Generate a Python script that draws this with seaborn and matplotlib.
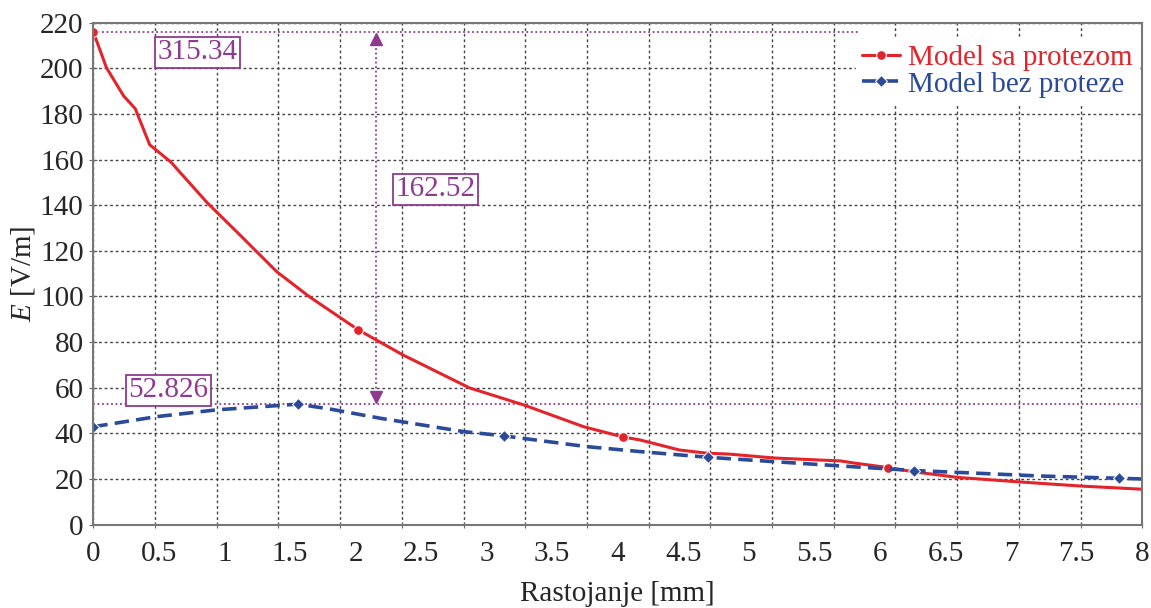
import numpy as np
import matplotlib
matplotlib.use("Agg")
import matplotlib.pyplot as plt
import seaborn as sns

# ---- data ----
red_x = [0, 0.10, 0.23, 0.32, 0.43, 0.59, 0.87, 1.10, 1.40, 1.65, 2.02, 2.36, 2.87, 3.28,
         3.74, 4.04, 4.17, 4.47, 4.68, 4.85, 5.19, 5.70, 5.80, 6.06, 6.25, 6.59, 7.04, 7.53, 8.0]
red_y = [216, 200.3, 188, 182.3, 166.5, 159, 141, 128, 110.8, 99.8, 85.4, 74.4, 59.9, 52.5,
         42.9, 38.4, 37.1, 32.7, 31.3, 30.9, 29.2, 27.9, 27.0, 25.0, 23.2, 20.7, 18.8, 16.9, 15.5]
red_marks = [0, 10, 15, 23]

blue_x = [0, 0.48, 0.94, 1.56, 1.81, 2.19, 2.82, 3.13, 3.76, 4.17, 4.69, 5.19, 5.70, 6.26,
          6.71, 7.22, 7.82, 8.0]
blue_y = [42.9, 47.3, 50.3, 52.8, 50.6, 46.6, 40.8, 38.9, 34.2, 32.0, 29.5, 27.6, 25.7, 23.7,
          22.6, 21.3, 20.3, 20.0]
blue_marks = [0, 3, 7, 10, 13, 16]

series_names = ["Model sa protezom", "Model bez proteze"]
x_tick_labels = ["0", "0.5", "1", "1.5", "2", "2.5", "3", "3.5", "4", "4.5", "5", "5.5",
                 "6", "6.5", "7", "7.5", "8"]
y_ticks = list(range(0, 221, 20))

max_with = 215.9
max_without = 52.826
label_max_with = "315.34"
label_diff = "162.52"
label_max_without = "52.826"

# ---- style ----
sns.set_style("ticks")
plt.rcParams["font.family"] = ["Liberation Serif", "DejaVu Serif"]
plt.rcParams["mathtext.fontset"] = "custom"
plt.rcParams["mathtext.it"] = "Liberation Serif:italic"
plt.rcParams["mathtext.rm"] = "Liberation Serif"

RED = "#E3242B"
BLUE = "#2B4A9A"
PURPLE = "#8E3A91"

fig = plt.figure(figsize=(11.51, 6.08), dpi=100)
ax = fig.add_axes([93.3 / 1151, 1 - 524.6 / 608, (1142.3 - 93.3) / 1151, (524.6 - 22.7) / 608])

sns.lineplot(x=red_x, y=red_y, ax=ax, color=RED, lw=2.2, marker="o", markersize=7,
             markevery=red_marks, label=series_names[0], estimator=None, sort=False)
sns.lineplot(x=blue_x, y=blue_y, ax=ax, color=BLUE, lw=2.6, marker="D", markersize=6,
             markevery=blue_marks, label=series_names[1], estimator=None, sort=False,
             dashes=False, linestyle=(0, (4, 2)))

ax.set_xlim(0, 8)
ax.set_ylim(0, 220)

# gridlines (17 divisions in x) and label positions (0.5 steps)
ax.xaxis.remove_overlapping_locs = False
ax.set_xticks(np.linspace(0, 8, 18))
ax.set_xticklabels([])
ax.set_xticks(np.arange(0, 8.01, 0.5), minor=True)
ax.set_xticklabels(x_tick_labels, minor=True)
ax.tick_params(axis="x", which="minor", length=0, pad=12, labelsize=21)
ax.tick_params(axis="x", which="major", length=5, direction="inout", color="#666666")
ax.set_yticks(y_ticks)
ax.tick_params(axis="y", which="major", length=6, direction="inout", labelsize=21, pad=4,
               color="#666666")
ax.grid(True, which="major", linestyle=(0, (2, 2)), color="#444444", lw=1.0)
ax.set_axisbelow(True)
for s in ax.spines.values():
    s.set_visible(True)
    s.set_color("#777777")
    s.set_linewidth(1.5)

ax.set_xlabel("Rastojanje [mm]", fontsize=21, labelpad=10)
ax.set_ylabel("$E$ [V/m]", fontsize=21, labelpad=2)

# annotations
ax.plot([0, 5.85], [max_with, max_with], color=PURPLE, lw=1.3, linestyle=(0, (1, 1.5)), zorder=1.5)
ax.plot([0, 8], [max_without, max_without], color=PURPLE, lw=1.3, linestyle=(0, (1, 1.5)), zorder=1.5)
ax_x = 2.155
ax.plot([ax_x, ax_x], [max_without + 5, max_with - 5], color=PURPLE, lw=1.3,
        linestyle=(0, (1, 1.5)), zorder=1.5)
ax.plot([ax_x], [max_with - 3.2], marker="^", color=PURPLE, markersize=8, zorder=3)
ax.plot([ax_x], [max_without + 3.2], marker="v", color=PURPLE, markersize=8, zorder=3)

box = dict(boxstyle="square,pad=0.08", fc="white", ec=PURPLE, lw=1.3)
ax.text(0.795, 207, label_max_with, color=PURPLE, fontsize=21, ha="center", va="center", bbox=box)
ax.text(2.61, 147, label_diff, color=PURPLE, fontsize=21, ha="center", va="center", bbox=box)
ax.text(0.574, 58.8, label_max_without, color=PURPLE, fontsize=21, ha="center", va="center", bbox=box)

leg = ax.legend(loc="upper left", bbox_to_anchor=(856 / 1151, 1 - 39 / 608),
                bbox_transform=fig.transFigure, frameon=True, fancybox=False,
                edgecolor="white", facecolor="white", framealpha=1, fontsize=21,
                handlelength=1.3, handletextpad=0.3, labelspacing=0.0, borderpad=0.2,
                borderaxespad=0)
for t, c in zip(leg.get_texts(), [RED, BLUE]):
    t.set_color(c)

fig.savefig("out.png", dpi=100)
